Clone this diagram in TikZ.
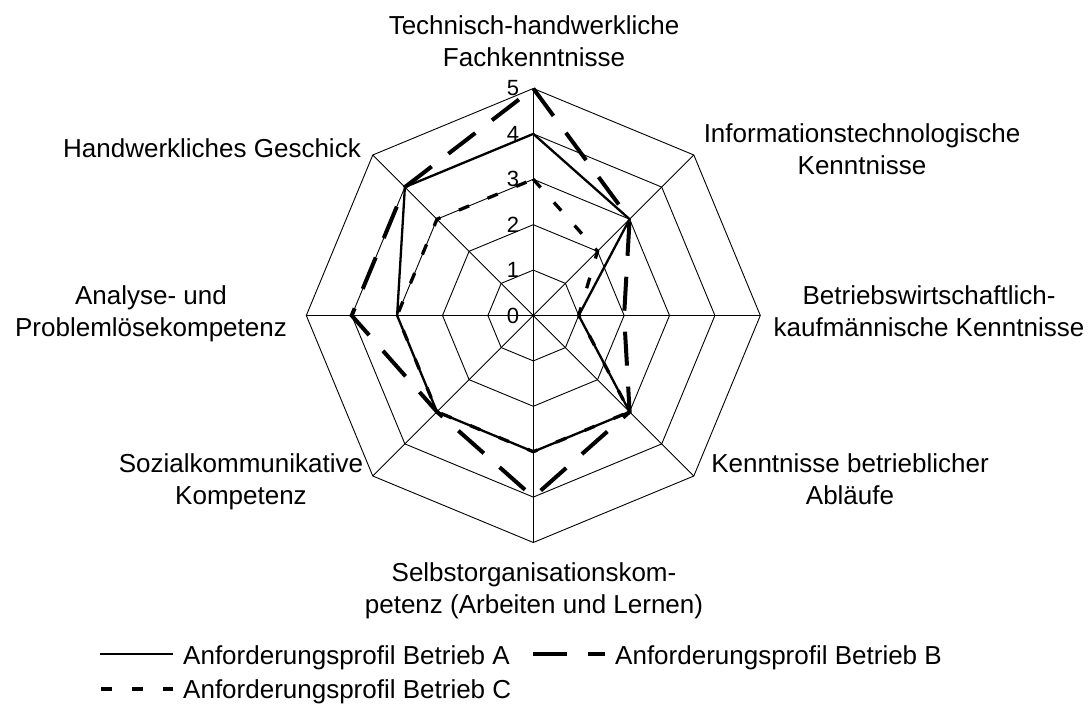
\documentclass[tikz,border=0pt]{standalone}
\usepackage{fontspec}
\setmainfont{Liberation Sans}
\usetikzlibrary{calc}
\begin{document}
\begin{tikzpicture}[x=1pt,y=1pt,
  grid/.style={draw=black, line width=0.9pt},
  lab/.style={font=\fontsize{26}{32}\selectfont, align=center, inner sep=0pt, anchor=base},
  legtext/.style={font=\fontsize{26}{32}\selectfont, inner sep=0pt, anchor=base west},
  num/.style={font=\fontsize{22}{24}\selectfont, inner sep=0pt, anchor=east},
  profA/.style={draw=black, line width=2.3pt, line join=miter},
  profB/.style={draw=black, line width=4pt, dash pattern=on 34pt off 21pt},
  profC/.style={draw=black, line width=3.3pt, dash pattern=on 11pt off 20pt},
]
\useasboundingbox (0,0) rectangle (1091,704);
\coordinate (O) at (533.3,388.5);
\def\u{45.4}
\begin{scope}[shift={(O)}]
  % octagonal grid
  \foreach \l in {1,...,5}
    \draw[grid] (90:\l*\u) -- (45:\l*\u) -- (0:\l*\u) -- (-45:\l*\u) -- (-90:\l*\u)
      -- (-135:\l*\u) -- (180:\l*\u) -- (135:\l*\u) -- cycle;
  \foreach \a in {90,45,0,-45,-90,-135,180,135}
    \draw[grid] (0,0) -- (\a:5*\u);
  % scale numbers
  \foreach \l in {0,...,5}
    \node[num] (n\l) at (-14,\l*\u) {\l};
  % profile points
  \foreach \name/\vals in {A/{4,3,1,3,3,3,3,4}, B/{5,3,2,3,4,3,4,4}, C/{3,2,1,3,3,3,3,3}} {
    \foreach \v [count=\i] in \vals {
      \pgfmathsetmacro{\ang}{90-45*(\i-1)}
      \coordinate (\name\i) at (\ang:\v*\u);
    }
  }
  \draw[profA] (A1) -- (A2) -- (A3) -- (A4) -- (A5) -- (A6) -- (A7) -- (A8) -- cycle;
  \draw[profB] (B1) -- (B2) -- (B3) -- (B4) -- (B5) -- (B6) -- (B7) -- (B8) -- cycle;
  \draw[profC] (C1) -- (C2) -- (C3) -- (C4) -- (C5) -- (C6) -- (C7) -- (C8) -- cycle;
\end{scope}
% axis labels (anchor = baseline of the last line)
\node[lab] (l1) at (534,637) {Technisch-handwerkliche\\Fachkenntnisse};
\node[lab] (l2) at (862,529) {Informationstechnologische\\Kenntnisse};
\node[lab] (l3) at (929,367.3) {Betriebswirtschaftlich-\\kaufmännische Kenntnisse};
\node[lab] (l4) at (850,199) {Kenntnisse betrieblicher\\Abläufe};
\node[lab] (l5) at (534,91) {Selbstorganisationskom-\\petenz (Arbeiten und Lernen)};
\node[lab] (l6) at (241,199) {Sozialkommunikative\\Kompetenz};
\node[lab] (l7) at (151,367.3) {Analyse- und\\Problemlösekompetenz};
\node[lab] (l8) at (212,546) {Handwerkliches Geschick};
% legend
\node[legtext] (legA) at (183,40) {Anforderungsprofil Betrieb A};
\node[legtext] (legB) at (615,40) {Anforderungsprofil Betrieb B};
\node[legtext] (legC) at (183,6) {Anforderungsprofil Betrieb C};
\draw[profA, line width=1.8pt] (100,50) -- (173,50);
\draw[profB] (533,50) -- (605,50);
\draw[profC] (101,15) -- (173,15);
\end{tikzpicture}
\end{document}
